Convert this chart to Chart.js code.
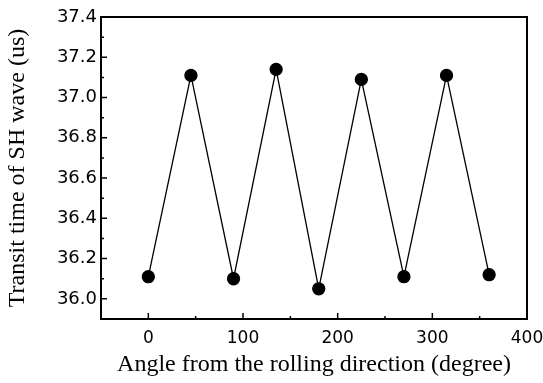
<!DOCTYPE html>
<html lang="en">
<head>
<meta charset="UTF-8">
<title>Transit time of SH wave</title>
<script src="https://cdn.jsdelivr.net/npm/chart.js"></script>
<style>
    html, body {
        margin: 0;
        padding: 0;
        background: #fff;
    }
    #wrap {
        width: 543px;
        height: 383px;
    }
</style>
</head>
<body>
<div id="wrap"><canvas id="transitChart" width="543" height="383"></canvas></div>
<script>
// data
var angles = [0, 45, 90, 135, 180, 225, 270, 315, 360];
var transitTimes = [36.11, 37.11, 36.10, 37.14, 36.05, 37.09, 36.11, 37.11, 36.12];

var xTicks = [0, 100, 200, 300, 400];
var yTicks = [36.0, 36.2, 36.4, 36.6, 36.8, 37.0, 37.2, 37.4];

// frame + inward ticks (major and minor), like the origin plot
var framePlugin = {
    id: 'frame',
    afterDraw: function (chart) {
        var ctx = chart.ctx;
        var area = chart.chartArea;
        var xs = chart.scales.x;
        var ys = chart.scales.y;
        ctx.save();
        ctx.strokeStyle = '#000';
        ctx.lineWidth = 2;
        ctx.strokeRect(area.left, area.top, area.right - area.left, area.bottom - area.top);

        ctx.lineWidth = 1.5;
        ctx.beginPath();
        xTicks.forEach(function (v, i) {
            var px = xs.getPixelForValue(v);
            ctx.moveTo(px, area.bottom);
            ctx.lineTo(px, area.bottom - 6);
            var mid = xs.getPixelForValue(v - 50);
            if (mid > area.left) {
                ctx.moveTo(mid, area.bottom);
                ctx.lineTo(mid, area.bottom - 3);
            }
        });
        yTicks.forEach(function (v) {
            var py = ys.getPixelForValue(v);
            ctx.moveTo(area.left, py);
            ctx.lineTo(area.left + 6, py);
            var mid = ys.getPixelForValue(v - 0.1);
            if (mid < area.bottom) {
                ctx.moveTo(area.left, mid);
                ctx.lineTo(area.left + 3, mid);
            }
        });
        ctx.stroke();
        ctx.restore();
    }
};

var ctx = document.getElementById('transitChart').getContext('2d');
var transitChart = new Chart(ctx, {
    type: 'scatter',
    data: {
        datasets: [{
            data: angles.map(function (a, i) { return { x: a, y: transitTimes[i] }; }),
            showLine: true,
            borderColor: '#000',
            borderWidth: 1.3,
            backgroundColor: '#000',
            pointBackgroundColor: '#000',
            pointBorderColor: '#000',
            pointRadius: 6,
            tension: 0
        }]
    },
    options: {
        responsive: false,
        animation: false,
        layout: {
            padding: { top: 17, right: 16, left: 0, bottom: 0 }
        },
        plugins: {
            legend: { display: false },
            tooltip: { enabled: false }
        },
        scales: {
            x: {
                type: 'linear',
                min: -50,
                max: 400,
                grid: { display: false, drawTicks: false },
                border: { display: false },
                afterBuildTicks: function (scale) {
                    scale.ticks = xTicks.map(function (v) { return { value: v }; });
                },
                afterFit: function (scale) {
                    scale.height = 64;
                    scale.paddingLeft = 0;
                    scale.paddingRight = 0;
                },
                ticks: {
                    color: '#000',
                    padding: 9,
                    maxRotation: 0,
                    font: { family: 'DejaVu Sans', size: 17 },
                    callback: function (v) { return String(v); }
                },
                title: {
                    display: true,
                    text: 'Angle from the rolling direction (degree)',
                    color: '#000',
                    font: { family: 'Liberation Serif', size: 24 },
                    padding: { top: 0, bottom: 4 }
                }
            },
            y: {
                type: 'linear',
                min: 35.9,
                max: 37.4,
                grid: { display: false, drawTicks: false },
                border: { display: false },
                afterBuildTicks: function (scale) {
                    scale.ticks = yTicks.map(function (v) { return { value: v }; });
                },
                afterFit: function (scale) {
                    scale.width = 101;
                },
                ticks: {
                    color: '#000',
                    padding: 4,
                    font: { family: 'DejaVu Sans', size: 18 },
                    callback: function (v) { return Number(v).toFixed(1); }
                },
                title: {
                    display: true,
                    text: 'Transit time of SH wave (us)',
                    color: '#000',
                    font: { family: 'Liberation Serif', size: 24 },
                    padding: { top: 3, bottom: 0 }
                }
            }
        }
    },
    plugins: [framePlugin]
});
</script>
</body>
</html>
